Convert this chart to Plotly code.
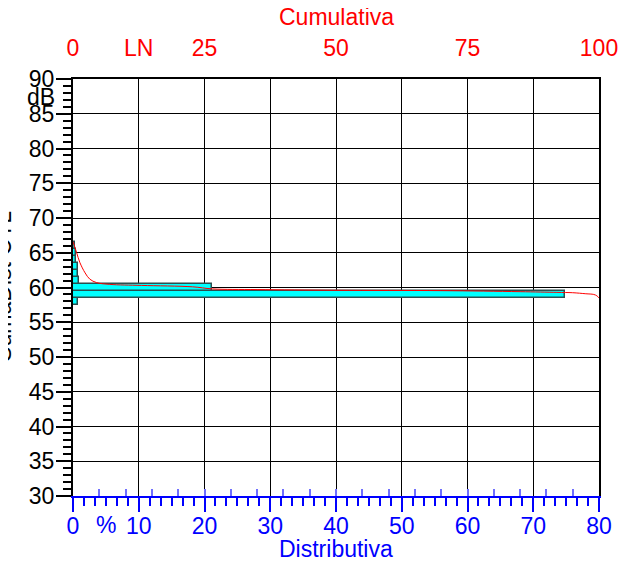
import plotly.graph_objects as go

# Distributiva histogram (1 dB bins)
levels_db = [58, 59, 60, 61, 62, 63, 64, 65, 66]
distrib_pct = [0.8, 74.8, 21.2, 0.95, 0.8, 0.7, 0.4, 0.5, 0.3]

# Cumulativa curve (percent of time, dB)
cum_pct = [0.0, 0.7, 1.3, 2.3, 3.2, 4.5, 7.0, 13.0, 22.7, 26.5, 35.0, 50.0, 70.0, 85.0, 92.0, 95.0, 97.5, 99.0, 99.6, 100.0]
cum_db = [66.6, 65.0, 63.6, 62.1, 61.2, 60.7, 60.45, 60.3, 60.1, 59.8, 59.7, 59.6, 59.55, 59.4, 59.3, 59.25, 59.1, 59.0, 58.8, 58.5]

# tick labels
y_ticks = list(range(30, 91, 5))
x_ticks = list(range(0, 81, 10))
top_ticks = [0, 12.5, 25, 50, 75, 100]
top_text = ["0", "LN", "25", "50", "75", "100"]

FONT = "Arial, Liberation Sans, sans-serif"
FS = 23
BLUE = "#0000ff"
RED = "#ff0000"

fig = go.Figure()
fig.add_trace(go.Bar(
    y=levels_db, x=distrib_pct, orientation="h", width=1,
    marker=dict(color="#00ffff", line=dict(color="#2a4f4f", width=1.5)),
    xaxis="x", yaxis="y", showlegend=False,
))
fig.add_trace(go.Scatter(
    x=cum_pct, y=cum_db, mode="lines", line=dict(color=RED, width=1, shape="spline"),
    xaxis="x2", yaxis="y", showlegend=False,
))
# invisible trace to activate inner tick axis
fig.add_trace(go.Scatter(x=[0], y=[30], mode="markers", marker=dict(opacity=0),
                         xaxis="x3", yaxis="y", showlegend=False, hoverinfo="skip"))

fig.update_layout(
    width=622, height=556,
    margin=dict(l=65, r=28, t=71, b=68),
    paper_bgcolor="white", plot_bgcolor="white",
    font=dict(family=FONT, size=FS, color="black"),
    bargap=0,
    xaxis=dict(
        range=[0, 80], tickvals=x_ticks, ticks="outside", ticklen=14, tickwidth=1.5,
        tickcolor=BLUE, tickfont=dict(color=BLUE, size=FS), ticklabelstandoff=-6,
        showline=True, linecolor=BLUE, linewidth=2,
        showgrid=True, gridcolor="black", gridwidth=1, zeroline=False,
        minor=dict(tickvals=[i * 10 / 6 for i in range(49)], ticks="outside", ticklen=8,
                   tickcolor=BLUE, tickwidth=1.5, showgrid=False),
    ),
    xaxis2=dict(
        overlaying="x", side="top", anchor="y", range=[0, 100],
        tickvals=top_ticks, ticktext=top_text,
        ticks="outside", ticklen=14, tickcolor="rgba(0,0,0,0)",
        tickfont=dict(color=RED, size=FS), ticklabelstandoff=-2,
        showline=True, linecolor="black", linewidth=2, showgrid=False, zeroline=False,
    ),
    xaxis3=dict(
        overlaying="x", side="bottom", anchor="y", range=[0, 80],
        tickvals=list(range(0, 81, 4)), ticks="inside", ticklen=7, tickwidth=1.5,
        tickcolor="#7070ff", showticklabels=False, showline=False, showgrid=False,
        zeroline=False,
    ),
    yaxis=dict(
        range=[30, 90], tickvals=y_ticks, ticks="outside", ticklen=15, tickwidth=1.5,
        tickcolor="black", showline=True, linecolor="black", linewidth=2, mirror=True,
        showgrid=True, gridcolor="black", gridwidth=1, zeroline=False,
        ticklabelstandoff=-3,
        minor=dict(dtick=1, tick0=30, ticks="outside", ticklen=8, tickcolor="black",
                   tickwidth=1.5, showgrid=False),
    ),
    annotations=[
        dict(text="Cumulativa", xref="paper", yref="paper", x=0.5, y=1, yanchor="middle",
             yshift=62, showarrow=False, font=dict(size=FS, color=RED)),
        dict(text="Distributiva", xref="paper", yref="paper", x=0.5, y=0, yanchor="middle",
             yshift=-53, showarrow=False, font=dict(size=FS, color=BLUE)),
        dict(text="dB", xref="paper", yref="y", x=0, y=87.4, xanchor="right",
             xshift=-16, showarrow=False, font=dict(size=FS, color="black")),
        dict(text="%", xref="x", yref="paper", x=5, y=0, yanchor="middle",
             yshift=-29, showarrow=False, font=dict(size=FS, color=BLUE)),
        dict(text="SumaDist OTL", xref="paper", yref="y", x=0, y=60.1, xanchor="right",
             xshift=-55, textangle=-90, showarrow=False, font=dict(size=FS, color="black")),
    ],
)

fig.write_html("out.html")
